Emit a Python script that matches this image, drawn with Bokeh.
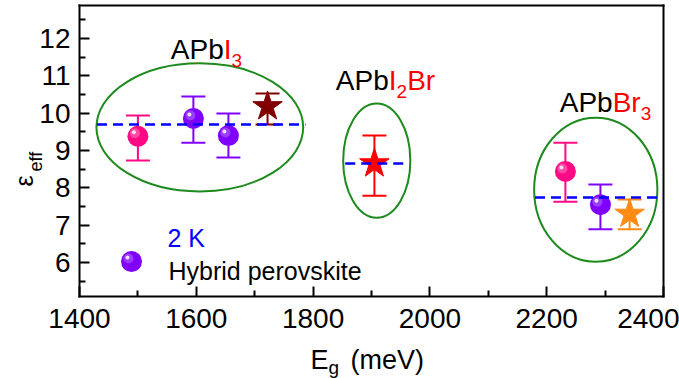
import math
from bokeh.plotting import figure
from bokeh.models import Label, Range1d, FixedTicker, LinearAxis
from bokeh.embed import file_html
from bokeh.resources import INLINE

# ---------------- data ----------------
groups = ["APbI3", "APbI2Br", "APbBr3"]

# hybrid perovskite (spheres)
sphere_eg = [1500, 1595, 1655, 2232, 2292]
sphere_eps = [9.38, 9.86, 9.40, 8.44, 7.55]
sphere_hi = [9.94, 10.45, 9.99, 9.21, 8.09]
sphere_lo = [8.73, 9.21, 8.81, 7.63, 6.89]
sphere_kind = ["pink", "purple", "purple", "pink", "purple"]

# stars
star_eg = [1722, 1905, 2342]
star_eps = [10.18, 8.65, 7.30]
star_hi = [10.53, 9.40, 7.69]
star_lo = [9.70, 7.79, 6.89]
star_colors = ["#800000", "#ff0000", "#ff8a14"]

# group mean (dashed) lines
mean_eps = [9.70, 8.65, 7.74]
mean_x0 = [1430, 1855, 2180]
mean_x1 = [1787, 1963, 2400]

# group ellipses
ell_x = [1606, 1909, 2284]
ell_y = [9.62, 8.73, 7.95]
ell_w = [354, 115, 211]
ell_h = [3.43, 3.06, 3.86]

x_ticks = [1400, 1600, 1800, 2000, 2200, 2400]
y_ticks = [6, 7, 8, 9, 10, 11, 12]
X_MIN, X_MAX = 1400, 2400
Y_MIN, Y_MAX = 5.09, 12.884

# ---------------- styling / geometry ----------------
FONT = "Liberation Sans"
PINK = "#ff0a84"
PURPLE = "#8000ff"
GREEN = "#1c8a1c"
BLUE = "#0000ff"
RED = "#ff0000"

W, H = 679, 378
FL, FR, FT, FB = 79, 663, 5, 296      # axes box in canvas pixels
PXX = (X_MAX - X_MIN) / (FR - FL)      # data per pixel
PXY = (Y_MAX - Y_MIN) / (FB - FT)


def dx(px):
    return X_MIN + (px - FL) * PXX


def dy(py):
    return Y_MIN + (FB - py) * PXY


p = figure(width=W, height=H,
           x_range=Range1d(dx(0), dx(W)), y_range=Range1d(dy(H), dy(0)),
           output_backend="svg", toolbar_location=None, min_border=0)
p.xgrid.visible = False
p.ygrid.visible = False
p.outline_line_color = None
p.background_fill_color = "white"
p.border_fill_color = "white"

x_minor = [(a + b) / 2 for a, b in zip(x_ticks[:-1], x_ticks[1:])]
y_minor = [t - 0.5 for t in y_ticks] + [y_ticks[-1] + 0.5]

xa = p.xaxis[0]
ya = p.yaxis[0]
xa.ticker = FixedTicker(ticks=x_ticks, minor_ticks=x_minor)
ya.ticker = FixedTicker(ticks=y_ticks, minor_ticks=y_minor)
xa.fixed_location = Y_MIN
ya.fixed_location = X_MIN
xa.bounds = (X_MIN, X_MAX)
ya.bounds = (Y_MIN, Y_MAX)
for ax in (xa, ya):
    ax.axis_line_width = 2
    ax.axis_line_color = "black"
    ax.axis_line_cap = "square"
    ax.major_tick_line_width = 2
    ax.minor_tick_line_width = 2
    ax.major_tick_line_color = "black"
    ax.minor_tick_line_color = "black"
    ax.major_tick_in = 10
    ax.major_tick_out = 0
    ax.minor_tick_in = 6
    ax.minor_tick_out = 0
    ax.major_label_text_font = FONT
    ax.major_label_text_font_size = "28px"
    ax.major_label_text_color = "black"
xa.major_label_standoff = 12
ya.major_label_standoff = 9

# plain top / right frame lines
top = LinearAxis(fixed_location=Y_MAX, bounds=(X_MIN, X_MAX),
                 ticker=FixedTicker(ticks=[]), axis_line_width=2,
                 axis_line_cap="square", major_label_text_font_size="0px")
right = LinearAxis(fixed_location=X_MAX, bounds=(Y_MIN, Y_MAX),
                   ticker=FixedTicker(ticks=[]), axis_line_width=2,
                   axis_line_cap="square", major_label_text_font_size="0px")
p.add_layout(top, "above")
p.add_layout(right, "right")

# ellipses
p.ellipse(x=ell_x, y=ell_y, width=ell_w, height=ell_h,
          fill_color=None, line_color=GREEN, line_width=2)

# error bars
sph_col = [PINK if k == "pink" else PURPLE for k in sphere_kind]
all_eg = sphere_eg + star_eg
all_hi = sphere_hi + star_hi
all_lo = sphere_lo + star_lo
all_col = sph_col + star_colors
p.segment(x0=all_eg, y0=all_lo, x1=all_eg, y1=all_hi,
          line_color=all_col, line_width=2)
p.scatter(x=all_eg + all_eg, y=all_hi + all_lo, marker="dash", size=24,
          line_color=all_col + all_col, line_width=2)

# spheres (ball + soft highlight)
light = ["#ff7fc0" if k == "pink" else "#b070ff" for k in sphere_kind]


def sphere(xs, ys, base, lite):
    p.scatter(x=xs, y=ys, size=21, fill_color=base, line_color=None)
    p.scatter(x=[v - 3 * PXX for v in xs], y=[v + 3 * PXY for v in ys],
              size=10, fill_color=lite, fill_alpha=0.55, line_color=None)
    p.scatter(x=[v - 4 * PXX for v in xs], y=[v + 4 * PXY for v in ys],
              size=4, fill_color="white", fill_alpha=0.85, line_color=None)


sphere(sphere_eg, sphere_eps, sph_col, light)

# stars
p.scatter(x=star_eg, y=star_eps, marker="star", size=31,
          fill_color=star_colors, line_color=star_colors, line_width=1)

# group mean dashed lines
p.segment(x0=mean_x0, y0=mean_eps, x1=mean_x1, y1=mean_eps,
          line_color=BLUE, line_width=2.5, line_dash="10 6")


# ---------------- texts ----------------
def lab(text, px, py, size, color="black", angle=0.0, align="left"):
    p.add_layout(Label(x=dx(px), y=dy(py), text=text, text_font=FONT,
                       text_font_size=f"{size}px", text_color=color,
                       text_align=align, text_baseline="alphabetic",
                       angle=angle))


ADV = {"A": 667, "P": 667, "b": 556, "I": 278, "B": 667, "r": 333}


def tw(s, size):
    return sum(ADV.get(c, 556) for c in s) * size / 1000.0


def formula(pieces, cx, base):
    total = sum(tw(s, sz) for s, c, sz, off in pieces)
    x = cx - total / 2
    for s, c, sz, off in pieces:
        lab(s, x, base + off, sz, c)
        x += tw(s, sz)


BIG, SUB, DOWN = 28, 19, 11
formula([("APb", "black", BIG, 0), ("I", RED, BIG, 0), ("3", RED, SUB, DOWN)],
        206, 49)
formula([("APb", "black", BIG, 0), ("I", RED, BIG, 0), ("2", RED, SUB, DOWN),
         ("Br", RED, BIG, 0)], 385, 80)
formula([("APb", "black", BIG, 0), ("Br", RED, BIG, 0), ("3", RED, SUB, DOWN)],
        605, 102)

lab("2 K", 167, 237, 25, BLUE)

# legend: hybrid perovskite sphere
sphere([dx(131)], [dy(261)], [PURPLE], ["#b070ff"])
lab("Hybrid perovskite", 168, 270, 25)

# axis titles
lab("E", 310, 359, 27)
lab("g", 328, 367, 19)
lab("(meV)", 350, 359, 27)
lab("\u03b5", 23, 186, 25, angle=math.pi / 2)
lab("eff", 35, 171, 18, angle=math.pi / 2)

open("out.html", "w").write(file_html(p, INLINE))
